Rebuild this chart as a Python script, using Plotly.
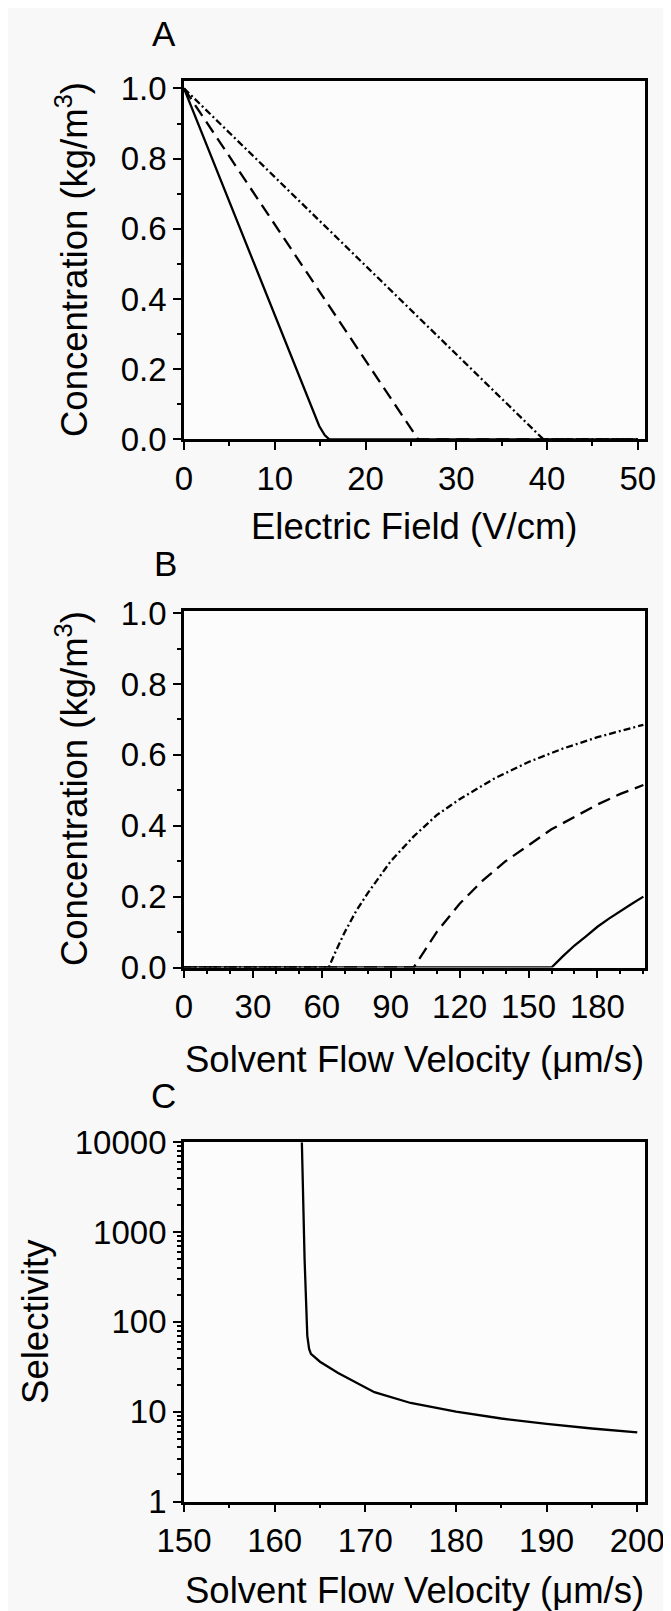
import plotly.graph_objects as go
from plotly.subplots import make_subplots

# ---------- Data ----------
# Panel A: concentration vs electric field
a_solid_x = [0, 5, 10, 14, 14.9, 15.5, 16, 20, 30, 40, 50]
a_solid_y = [1.0, 0.677, 0.354, 0.096, 0.038, 0.012, 0.0, 0.0, 0.0, 0.0, 0.0]
a_dash_x = [0, 5, 10, 15, 20, 25, 25.8, 30, 40, 50]
a_dash_y = [1.0, 0.806, 0.612, 0.419, 0.225, 0.031, 0.0, 0.0, 0.0, 0.0]
a_dd_x = [0, 5, 10, 20, 30, 39.6, 45, 50]
a_dd_y = [1.0, 0.874, 0.747, 0.495, 0.242, 0.0, 0.0, 0.0]

# Panel B: concentration vs solvent flow velocity
b_solid_x = [0, 160, 165, 170, 175, 180, 185, 190, 195, 200]
b_solid_y = [0, 0, 0.032, 0.062, 0.088, 0.115, 0.138, 0.16, 0.18, 0.2]
b_dash_x = [0, 100, 105, 110, 120, 130, 140, 150, 160, 170, 180, 190, 200]
b_dash_y = [0, 0, 0.05, 0.10, 0.18, 0.245, 0.30, 0.345, 0.39, 0.425, 0.46, 0.49, 0.515]
b_dd_x = [0, 63, 66, 70, 75, 80, 90, 100, 110, 120, 135, 150, 165, 180, 200]
b_dd_y = [0, 0, 0.045, 0.10, 0.16, 0.21, 0.30, 0.37, 0.43, 0.475, 0.533, 0.58, 0.618, 0.65, 0.685]

# Panel C: selectivity vs solvent flow velocity
c_x = [163.0, 163.3, 163.6, 163.8, 164.0, 165, 167, 169, 171, 175, 180, 185, 190, 195, 200]
c_y = [10000, 500, 70, 50, 44, 36, 27, 21, 16.5, 12.5, 10, 8.4, 7.3, 6.5, 5.9]

# Tick labels
a_x_ticks = [0, 10, 20, 30, 40, 50]
conc_ticks = [0.0, 0.2, 0.4, 0.6, 0.8, 1.0]
b_x_ticks = [0, 30, 60, 90, 120, 150, 180]
c_x_ticks = [150, 160, 170, 180, 190, 200]
c_y_ticks = [1, 10, 100, 1000, 10000]
c_y_labels = ["1", "10", "100", "1000", "10000"]

# Text
panel_labels = ["A", "B", "C"]
x_titles = ["Electric Field (V/cm)", "Solvent Flow Velocity (\u03bcm/s)", "Solvent Flow Velocity (\u03bcm/s)"]
y_titles = ["Concentration (kg/m<sup>3</sup>)", "Concentration (kg/m<sup>3</sup>)", "Selectivity"]

# ---------- Figure ----------
W, H = 671, 1611
FONT = "Liberation Sans, Arial, sans-serif"
TICKF = 33
TITLEF = 36.5
LABELF = 35
BG = "#f8f8f8"

fig = make_subplots(rows=3, cols=1)

line_solid = dict(color="black", width=2.3)
line_dash = dict(color="black", width=2.3, dash="13px,7px")
line_dd = dict(color="black", width=2.3, dash="7px,3px,2px,3px")

fig.add_trace(go.Scatter(x=a_solid_x, y=a_solid_y, mode="lines", line=line_solid), row=1, col=1)
fig.add_trace(go.Scatter(x=a_dash_x, y=a_dash_y, mode="lines", line=line_dash), row=1, col=1)
fig.add_trace(go.Scatter(x=a_dd_x, y=a_dd_y, mode="lines", line=line_dd), row=1, col=1)

fig.add_trace(go.Scatter(x=b_solid_x, y=b_solid_y, mode="lines", line=line_solid), row=2, col=1)
fig.add_trace(go.Scatter(x=b_dash_x, y=b_dash_y, mode="lines", line=line_dash), row=2, col=1)
fig.add_trace(go.Scatter(x=b_dd_x, y=b_dd_y, mode="lines", line=line_dd), row=2, col=1)

fig.add_trace(go.Scatter(x=c_x, y=c_y, mode="lines", line=line_solid), row=3, col=1)

# plot-area positions in figure pixels
PL, PR = 176, 637
xdom = [PL / W, PR / W]
panels = [(72.7, 431.3), (602.7, 959.5), (1134.3, 1493.5)]  # (top, bottom)

def ydom(top_px, bot_px):
    return [1 - bot_px / H, 1 - top_px / H]

minor_style = dict(ticks="outside", ticklen=4, tickwidth=2, tickcolor="black")
common = dict(
    showline=True, linecolor="black", linewidth=2.8, mirror=True,
    ticks="outside", ticklen=8, tickwidth=2.2, tickcolor="black",
    showgrid=False, zeroline=False, automargin=False,
    tickfont=dict(family=FONT, size=TICKF, color="black"),
)

fig.update_layout(
    xaxis=dict(domain=xdom, range=[0, 50.8], tickvals=a_x_ticks,
               minor=dict(dtick=5, **minor_style), **common),
    yaxis=dict(domain=ydom(*panels[0]), range=[0, 1.022], tickvals=conc_ticks, tickformat=".1f",
               minor=dict(dtick=0.1, **minor_style), **common),
    xaxis2=dict(domain=xdom, range=[0, 200.7], tickvals=b_x_ticks,
                minor=dict(dtick=10, **minor_style), **common),
    yaxis2=dict(domain=ydom(*panels[1]), range=[0, 1.007], tickvals=conc_ticks, tickformat=".1f",
                minor=dict(dtick=0.1, **minor_style), **common),
    xaxis3=dict(domain=xdom, range=[150, 200.85], tickvals=c_x_ticks,
                minor=dict(dtick=5, **minor_style), **common),
    yaxis3=dict(domain=ydom(*panels[2]), type="log", range=[0, 4],
                tickvals=c_y_ticks, ticktext=c_y_labels,
                minor=dict(tickvals=[m * 10 ** d for d in range(4) for m in range(2, 10)], **minor_style),
                **common),
)

fig.update_layout(
    width=W, height=H,
    margin=dict(l=0, r=0, t=0, b=0, autoexpand=False),
    paper_bgcolor=BG,
    plot_bgcolor="#fcfcfc",
    showlegend=False,
    font=dict(family=FONT, color="black"),
)

def add_text(text, xpx, ypx, size, angle=0):
    fig.add_annotation(text=text, x=xpx / W, y=1 - ypx / H, xref="paper", yref="paper",
                       xanchor="center", yanchor="middle", showarrow=False, textangle=angle,
                       font=dict(family=FONT, size=size, color="black"))

# panel letters (center positions in figure px)
label_pos = [(156, 25), (157, 555), (155.5, 1087)]
for lab, (lx, ly) in zip(panel_labels, label_pos):
    add_text(lab, lx, ly, LABELF)

# axis titles
x_title_y = [518, 1051, 1582]
y_title_x = [64, 64, 28]
for i, (top, bot) in enumerate(panels):
    add_text(x_titles[i], (PL + PR) / 2, x_title_y[i], TITLEF)
    add_text(y_titles[i], y_title_x[i], (top + bot) / 2, TITLEF, angle=-90)

fig.write_html("out.html")
